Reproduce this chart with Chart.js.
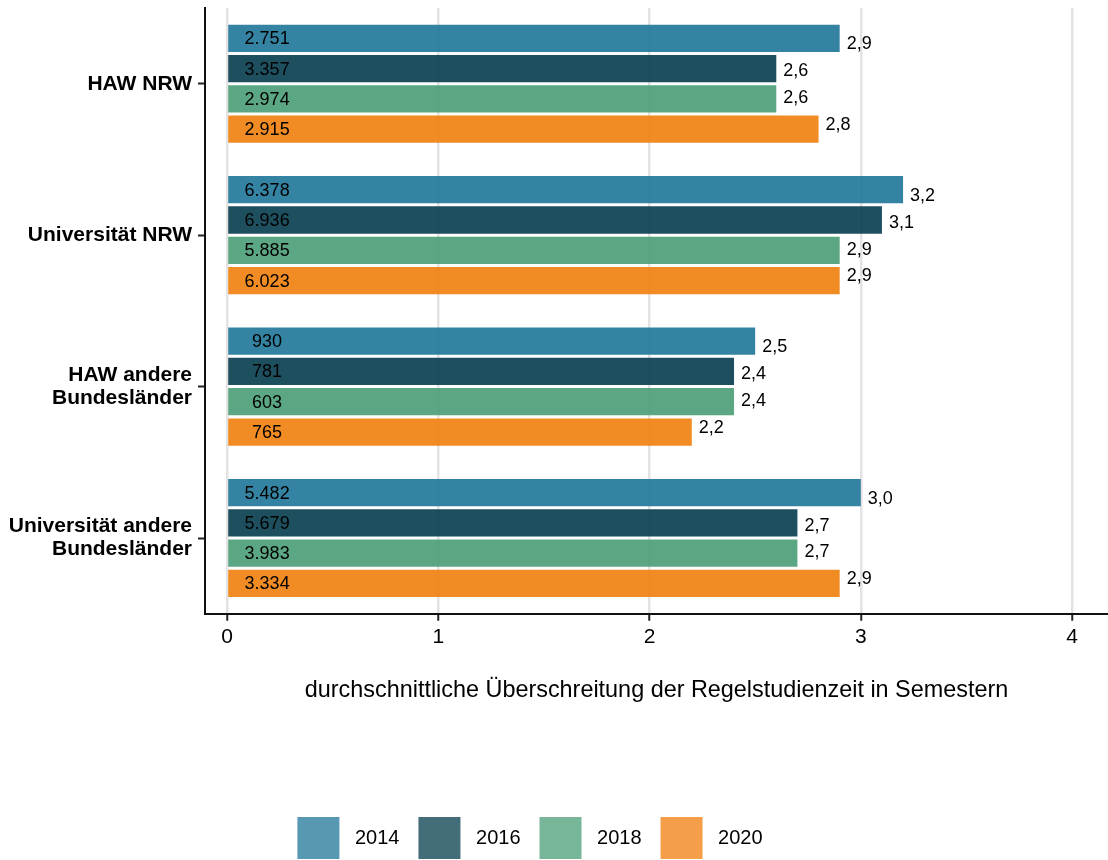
<!DOCTYPE html>
<html>
<head>
<meta charset="utf-8">
<script src="https://cdn.jsdelivr.net/npm/chart.js@4"></script>
<style>
  html, body { margin: 0; padding: 0; background: #fff; }
  #wrap { width: 1108px; height: 860px; }
</style>
</head>
<body>
<div id="wrap"><canvas id="myChart" width="1108" height="860"></canvas></div>
<script>
// data
let categories = ['HAW NRW', 'Universität NRW', ['HAW andere', 'Bundesländer'], ['Universität andere', 'Bundesländer']];
let years = ['2014', '2016', '2018', '2020'];

let values2014 = [2.9, 3.2, 2.5, 3.0];
let values2016 = [2.6, 3.1, 2.4, 2.7];
let values2018 = [2.6, 2.9, 2.4, 2.7];
let values2020 = [2.8, 2.9, 2.2, 2.9];

let counts2014 = [2751, 6378, 930, 5482];
let counts2016 = [3357, 6936, 781, 5679];
let counts2018 = [2974, 5885, 603, 3983];
let counts2020 = [2915, 6023, 765, 3334];

let xTicks = [0, 0.5, 1, 1.5, 2, 2.5, 3, 3.5, 4];

let barColors = ['rgba(31,117,153,0.9)', 'rgba(4,60,76,0.9)', 'rgba(74,157,117,0.9)', 'rgba(240,126,12,0.9)'];
let legendColors = ['rgba(31,117,153,0.75)', 'rgba(4,60,76,0.75)', 'rgba(74,157,117,0.75)', 'rgba(240,126,12,0.75)'];

let allValues = [values2014, values2016, values2018, values2020];
let allCounts = [counts2014, counts2016, counts2018, counts2020];

const FONT = "'Liberation Sans', Arial, Helvetica, sans-serif";

function thousands(n) {
    return String(n).replace(/\B(?=(\d{3})+(?!\d))/g, '.');
}

// labels: n inside the bar, value at the end of the bar
let barLabels = {
    id: 'barLabels',
    afterDatasetsDraw(chart) {
        let ctx = chart.ctx;
        let x = chart.scales.x;
        ctx.save();
        ctx.font = '18px ' + FONT;
        ctx.fillStyle = '#000';
        ctx.textBaseline = 'middle';
        chart.data.datasets.forEach((ds, i) => {
            let meta = chart.getDatasetMeta(i);
            meta.data.forEach((bar, j) => {
                let center = chart.scales.y.getPixelForValue(j);
                ctx.textAlign = 'center';
                ctx.fillText(thousands(allCounts[i][j]), x.getPixelForValue(0.19), bar.y + 1);
                ctx.textAlign = 'left';
                let ly = center + (bar.y - center) * 0.885 + 1;
                ctx.fillText(ds.data[j].toFixed(1).replace('.', ','), bar.x + 7, ly);
            });
        });
        ctx.restore();
    }
};

// legend a bit left and lower like the original
let legendShift = {
    id: 'legendShift',
    afterLayout(chart) {
        chart.legend.right -= 48;
        chart.legend.top += 9;
        chart.legend.bottom += 9;
    }
};

let bar = document.getElementById('myChart').getContext('2d');

let chart1 = new Chart(bar, {
    type: 'bar',
    data: {
        labels: categories,
        datasets: years.map((yr, i) => ({
            label: yr,
            data: allValues[i],
            backgroundColor: barColors[i],
            borderWidth: 0,
            categoryPercentage: 0.8,
            barPercentage: 0.9
        }))
    },
    options: {
        indexAxis: 'y',
        responsive: false,
        animation: false,
        layout: { padding: { top: 8, left: 0, right: 0, bottom: 0 } },
        plugins: {
            tooltip: { enabled: false },
            legend: {
                position: 'bottom',
                padding: { top: 0, bottom: 0 },
                labels: {
                    boxWidth: 42,
                    boxHeight: 42,
                    padding: 19,
                    color: '#1a1a1a',
                    font: { family: FONT, size: 20 },
                    generateLabels(chart) {
                        return years.map((yr, i) => ({
                            text: ' ' + yr,
                            fillStyle: legendColors[i],
                            strokeStyle: legendColors[i],
                            lineWidth: 0,
                            datasetIndex: i
                        }));
                    }
                }
            }
        },
        scales: {
            x: {
                type: 'linear',
                min: -0.104,
                max: 4.17,
                afterBuildTicks(scale) {
                    scale.ticks = xTicks.map(v => ({ value: v }));
                },
                ticks: {
                    autoSkip: false,
                    maxRotation: 0,
                    padding: 4,
                    color: '#000',
                    font: { family: FONT, size: 21 },
                    callback: v => (Number.isInteger(v) ? String(v) : '')
                },
                grid: {
                    color: c => (Number.isInteger(c.tick.value) ? '#e3e3e3' : '#ffffff'),
                    lineWidth: c => (Number.isInteger(c.tick.value) ? 2.5 : 1.2),
                    tickColor: c => (Number.isInteger(c.tick.value) ? '#222' : 'rgba(0,0,0,0)'),
                    tickWidth: 2,
                    tickLength: 7
                },
                border: { display: true, color: '#111', width: 2 },
                title: {
                    display: true,
                    text: 'durchschnittliche Überschreitung der Regelstudienzeit in Semestern',
                    color: '#000',
                    font: { family: FONT, size: 23.4 },
                    padding: { top: 23, bottom: 84 }
                }
            },
            y: {
                afterFit(scale) {
                    scale.width = 205;
                    scale.paddingTop = 0;
                    scale.paddingBottom = 0;
                },
                ticks: {
                    padding: 6,
                    color: '#000',
                    font: { family: FONT, size: 21, weight: 'bold', lineHeight: 1.1 }
                },
                grid: {
                    offset: false,
                    drawOnChartArea: false,
                    drawTicks: true,
                    tickLength: 7,
                    tickColor: '#222',
                    tickWidth: 2
                },
                border: { display: true, color: '#111', width: 2 }
            }
        }
    },
    plugins: [barLabels, legendShift]
});
</script>
</body>
</html>
